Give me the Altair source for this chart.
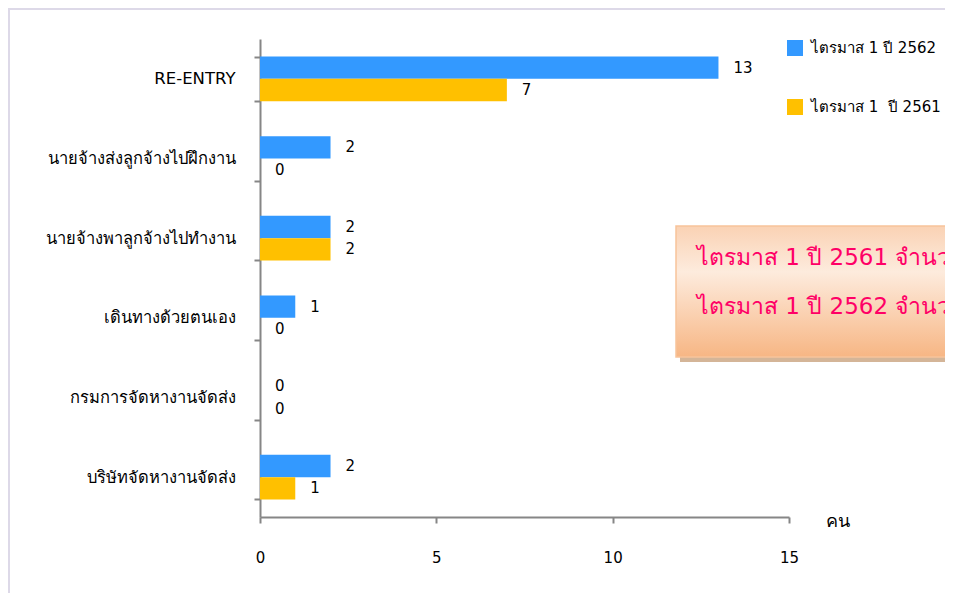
import altair as alt
import pandas as pd

categories = ["RE-ENTRY", "นายจ้างส่งลูกจ้างไปฝึกงาน", "นายจ้างพาลูกจ้างไปทำงาน",
              "เดินทางด้วยตนเอง", "กรมการจัดหางานจัดส่ง", "บริษัทจัดหางานจัดส่ง"]
series = ["ไตรมาส 1 ปี 2562", "ไตรมาส 1\u00a0 ปี 2561"]
values_2562 = [13, 2, 2, 1, 0, 2]
values_2561 = [7, 0, 2, 0, 0, 1]
colors = ["#3399FF", "#FFC000"]
x_ticks = [0, 5, 10, 15]
box_line_1 = "ไตรมาส 1 ปี 2561 จำนวน 10 คน"
box_line_2 = "ไตรมาส 1 ปี 2562 จำนวน 20 คน"

FONT = "DejaVu Sans, Noto Sans, sans-serif"

rows = []
for c, v in zip(categories, values_2562):
    rows.append({"cat": c, "series": series[0], "value": v})
for c, v in zip(categories, values_2561):
    rows.append({"cat": c, "series": series[1], "value": v})
df = pd.DataFrame(rows)

y_enc = alt.Y("cat:N", sort=categories,
              scale=alt.Scale(paddingInner=0.44, paddingOuter=0.22),
              axis=alt.Axis(title=None, tickBand="extent", labelPadding=19,
                            labelFontSize=16.5, labelColor="#000000", labelFont=FONT,
                            labelLimit=300,
                            domainColor="#868686", tickColor="#868686",
                            domainWidth=2, tickWidth=2, tickSize=6))
yoff = alt.YOffset("series:N", sort=series, scale=alt.Scale(paddingInner=0, paddingOuter=0))

bars = alt.Chart(df).mark_bar().encode(
    x=alt.X("value:Q", scale=alt.Scale(domain=[0, 15], nice=False),
            axis=alt.Axis(values=x_ticks, grid=False, title="คน", titleX=565, titleY=4,
                          titleAlign="left", titleBaseline="middle", titleAngle=0,
                          titleFontSize=18, titleFontWeight="normal", titleColor="#000000",
                          titleFont=FONT,
                          labelFontSize=15, labelColor="#000000", labelFont=FONT,
                          labelPadding=27, domainColor="#868686", tickColor="#868686",
                          domainWidth=2, tickWidth=2, tickSize=6, labelFlush=False)),
    y=y_enc,
    yOffset=yoff,
    color=alt.Color("series:N", sort=series,
                    scale=alt.Scale(domain=series, range=colors),
                    legend=alt.Legend(title=None, orient="none", legendX=527, legendY=1,
                                      symbolType="square", symbolSize=256,
                                      symbolStrokeWidth=0, labelFontSize=15,
                                      labelColor="#000000", labelFont=FONT,
                                      labelOffset=8, rowPadding=43, padding=0,
                                      labelLimit=300)),
)

labels = alt.Chart(df).mark_text(align="left", baseline="middle", dx=15,
                                 fontSize=15, color="#000000", font=FONT).encode(
    x="value:Q", y=alt.Y("cat:N", sort=categories), yOffset=yoff,
    text="value:Q",
)

one = pd.DataFrame({"k": [0]})

frame = alt.Chart(one).mark_rect(fill=None, stroke="#DDD9E8", strokeWidth=2).encode(
    x=alt.value(-251), y=alt.value(-30), x2=alt.value(720), y2=alt.value(600))

shadow = alt.Chart(one).mark_rect(color="#C9A27E", opacity=0.8).encode(
    x=alt.value(420), x2=alt.value(720), y=alt.value(318), y2=alt.value(323))

box = alt.Chart(one).mark_rect(
    fill=alt.LinearGradient(gradient="linear", x1=0, y1=0, x2=0, y2=1,
                            stops=[alt.GradientStop(offset=0, color="#FAD2B4"),
                                   alt.GradientStop(offset=0.35, color="#FDEBDD"),
                                   alt.GradientStop(offset=1, color="#F7B684")]),
    stroke="#F8C39A", strokeWidth=1.5).encode(
    x=alt.value(416), x2=alt.value(720), y=alt.value(187), y2=alt.value(318))

text1 = alt.Chart(one).mark_text(align="left", baseline="middle", fontSize=23,
                                 color="#FF0066", font=FONT).encode(
    x=alt.value(437), y=alt.value(219), text=alt.value(box_line_1))
text2 = alt.Chart(one).mark_text(align="left", baseline="middle", fontSize=23,
                                 color="#FF0066", font=FONT).encode(
    x=alt.value(437), y=alt.value(268), text=alt.value(box_line_2))

chart = alt.layer(frame, bars, labels, shadow, box, text1, text2).properties(
    width=529, height=478,
    padding={"left": 252, "top": 31, "right": 156, "bottom": 76},
    autosize=alt.AutoSizeParams(type="none"),
).configure_view(stroke=None)

chart.save("out.html", embed_options={"renderer": "svg", "actions": False})
